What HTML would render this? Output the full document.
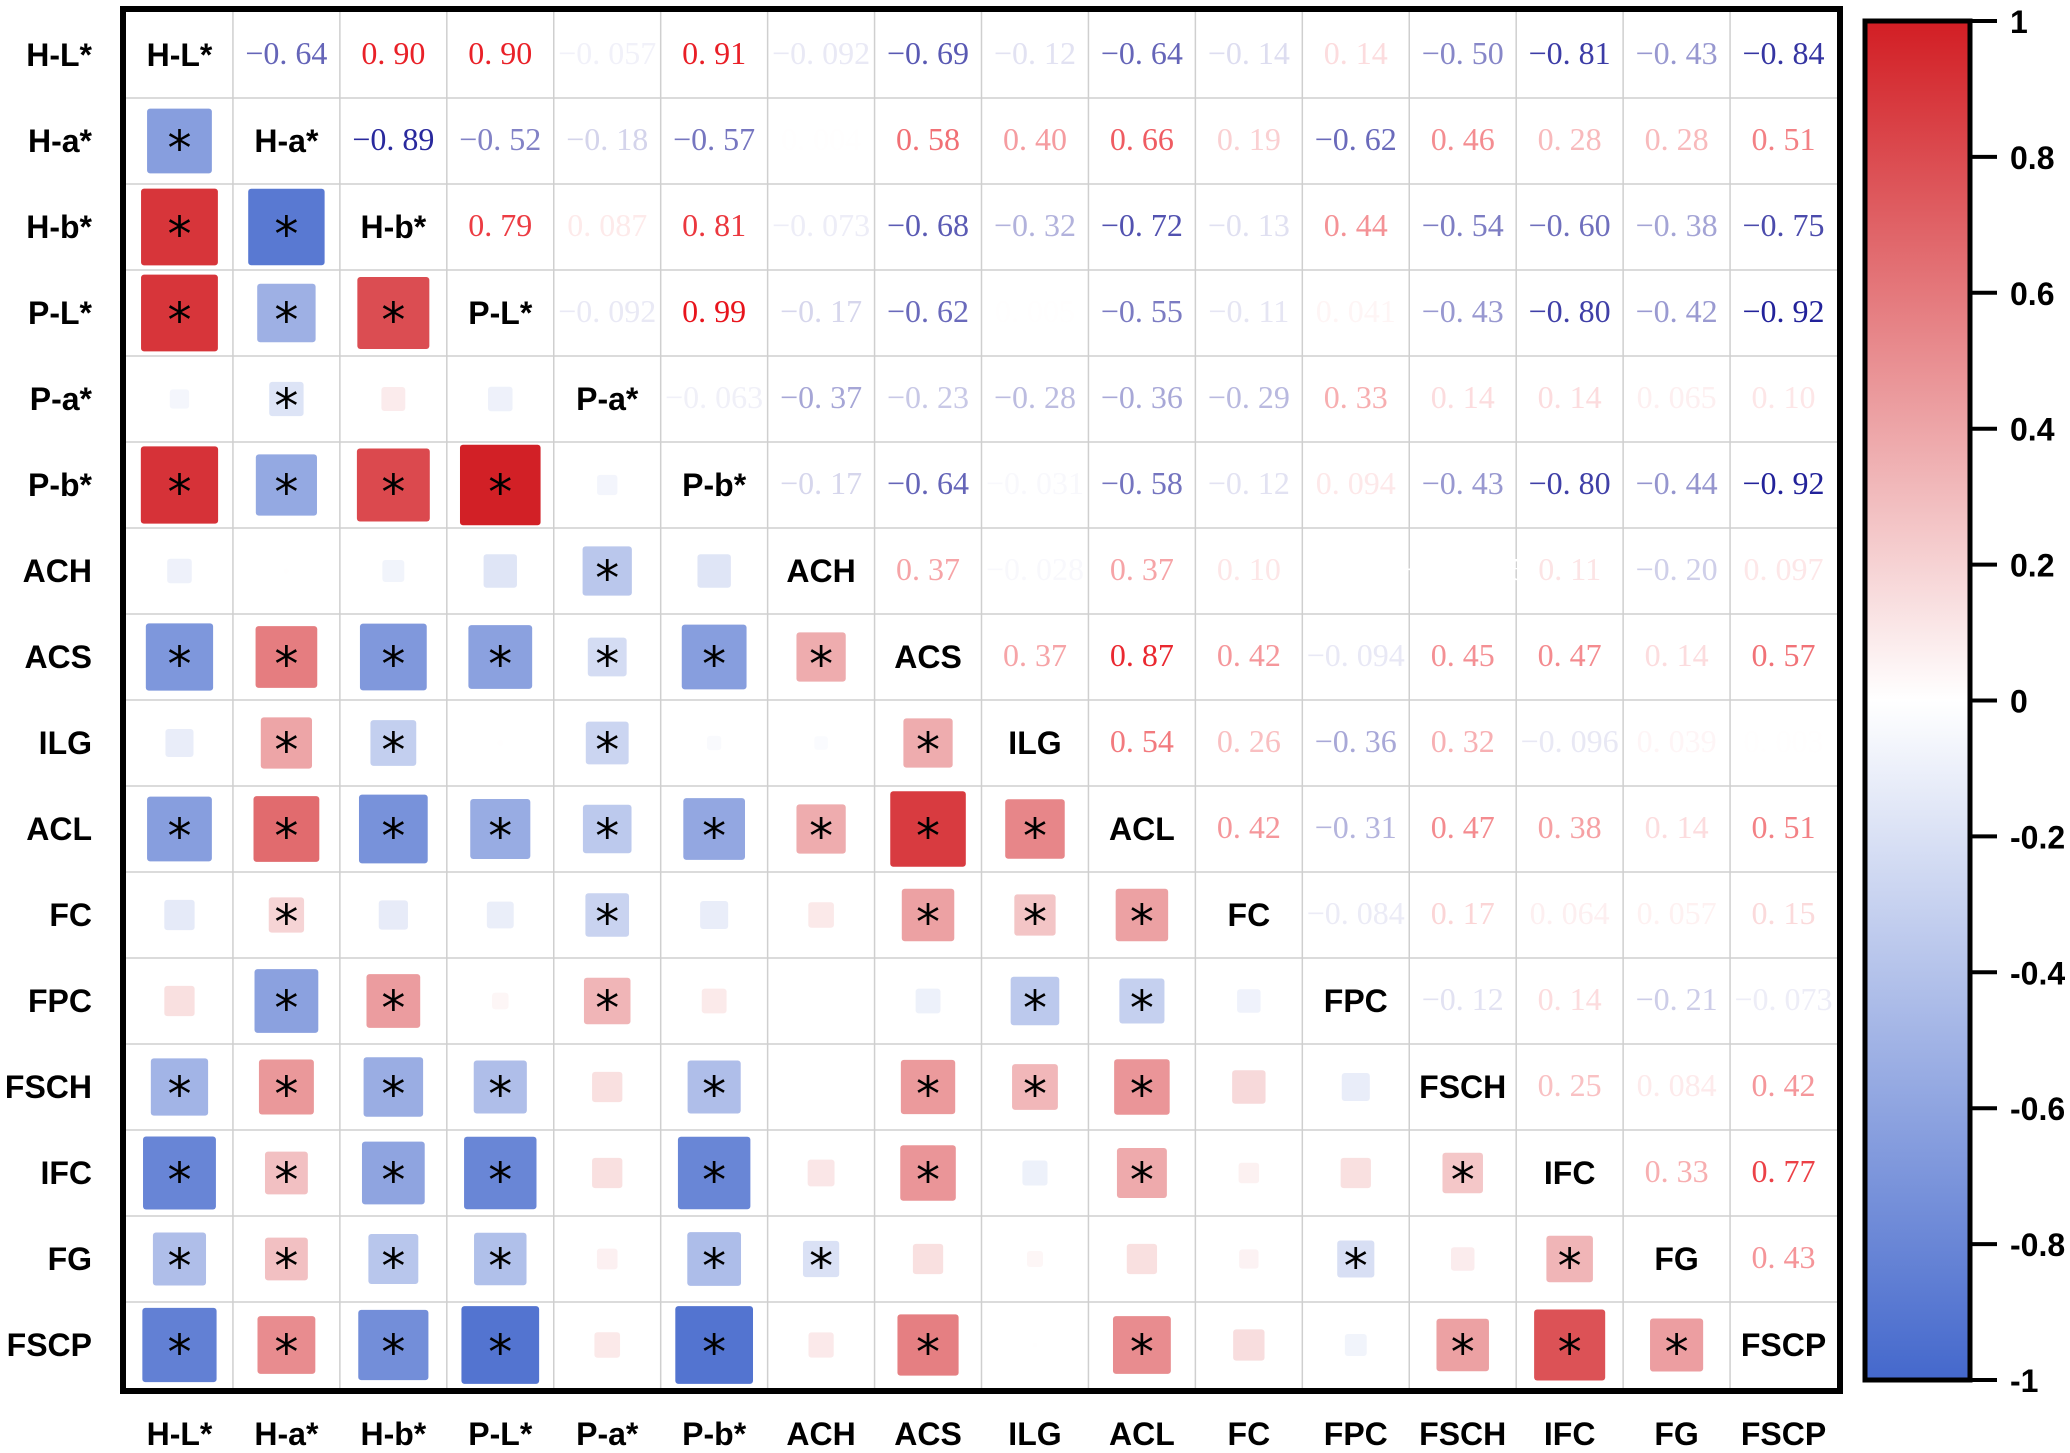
<!DOCTYPE html>
<html><head><meta charset="utf-8"><style>
html,body{margin:0;padding:0;background:#fff}
svg{display:block}
</style></head><body>
<svg id="chart" xmlns="http://www.w3.org/2000/svg" width="2070" height="1453" viewBox="0 0 2070 1453"></svg>
<script>
const labels = ["H-L*","H-a*","H-b*","P-L*","P-a*","P-b*","ACH","ACS","ILG","ACL","FC","FPC","FSCH","IFC","FG","FSCP"];
const upperRows = [
 [-0.64,0.90,0.90,-0.057,0.91,-0.092,-0.69,-0.12,-0.64,-0.14,0.14,-0.50,-0.81,-0.43,-0.84],
 [-0.89,-0.52,-0.18,-0.57,0.004,0.58,0.40,0.66,0.19,-0.62,0.46,0.28,0.28,0.51],
 [0.79,0.087,0.81,-0.073,-0.68,-0.32,-0.72,-0.13,0.44,-0.54,-0.60,-0.38,-0.75],
 [-0.092,0.99,-0.17,-0.62,0.005,-0.55,-0.11,0.041,-0.43,-0.80,-0.42,-0.92],
 [-0.063,-0.37,-0.23,-0.28,-0.36,-0.29,0.33,0.14,0.14,0.065,0.10],
 [-0.17,-0.64,-0.031,-0.58,-0.12,0.094,-0.43,-0.80,-0.44,-0.92],
 [0.37,-0.028,0.37,0.10,0.002,-0.00065,0.11,-0.20,0.097],
 [0.37,0.87,0.42,-0.094,0.45,0.47,0.14,0.57],
 [0.54,0.26,-0.36,0.32,-0.096,0.039,0.003],
 [0.42,-0.31,0.47,0.38,0.14,0.51],
 [-0.084,0.17,0.064,0.057,0.15],
 [-0.12,0.14,-0.21,-0.073],
 [0.25,0.084,0.42],
 [0.33,0.77],
 [0.43]
];
const sigRows = [
 [],
 [1],
 [1,1],
 [1,1,1],
 [0,1,0,0],
 [1,1,1,1,0],
 [0,0,0,0,1,0],
 [1,1,1,1,1,1,1],
 [0,1,1,0,1,0,0,1],
 [1,1,1,1,1,1,1,1,1],
 [0,1,0,0,1,0,0,1,1,1],
 [0,1,1,0,1,0,0,0,1,1,0],
 [1,1,1,1,0,1,0,1,1,1,0,0],
 [1,1,1,1,0,1,0,1,0,1,0,0,1],
 [1,1,1,1,0,1,1,0,0,0,0,1,0,1],
 [1,1,1,1,0,1,0,1,0,1,0,0,1,1,1]
];
const cbTicks = [1,0.8,0.6,0.4,0.2,0,-0.2,-0.4,-0.6,-0.8,-1];
const cbTickLabels = ["1","0.8","0.6","0.4","0.2","0","-0.2","-0.4","-0.6","-0.8","-1"];

const NS="http://www.w3.org/2000/svg";
const svg=document.getElementById('chart');
const X0=126,Y0=12,X1=1837,Y1=1388,N=labels.length;
const CW=(X1-X0)/N, CH=(Y1-Y0)/N;
const xc=j=>X0+CW*(j+0.5), yc=i=>Y0+CH*(i+0.5);
const CB={x0:1865,x1:1970,y0:21,y1:1380};
const cbY=v=>CB.y0+(1-v)/2*(CB.y1-CB.y0);
function mk(t,a,p){const e=document.createElementNS(NS,t);for(const k in a)e.setAttribute(k,a[k]);(p||svg).appendChild(e);return e;}
function mix(c,t){const w=[255,255,255];return 'rgb('+c.map((v,i)=>Math.round(w[i]+(v-w[i])*t)).join(',')+')';}
const fillCol=r=>r>=0?mix([210,30,36],Math.min(1,r)):mix([68,104,204],Math.min(1,-r));
const textCol=r=>r>=0?mix([232,20,28],Math.min(1,r*1.05)):mix([26,26,150],Math.min(1,-r*1.05));
function val(i,j){if(i===j)return 1;if(i<j)return upperRows[i][j-i-1];return upperRows[j][i-j-1];}
function fmt(v){let s=Math.abs(v)<0.01?(v<0?"-":"")+Math.abs(v).toFixed(Math.abs(v)<0.001?5:3):(Math.abs(v)<0.1?v.toFixed(3):v.toFixed(2));s=s.replace("-","\u2212");return s.replace(".",". ");}

const grid=mk('g',{});


for(let k=1;k<N;k++){
 mk('line',{x1:X0+CW*k,x2:X0+CW*k,y1:Y0,y2:Y1,stroke:'#cfcfcf','stroke-width':1.5},grid);
 mk('line',{x1:X0,x2:X1,y1:Y0+CH*k,y2:Y0+CH*k,stroke:'#cfcfcf','stroke-width':1.5},grid);
}
for(let i=0;i<N;i++)for(let j=0;j<N;j++){
 const r=val(i,j);
 if(i===j){
  const t=mk('text',{x:xc(j),y:yc(i)+11,'text-anchor':'middle','font-family':'Liberation Sans, sans-serif','font-weight':'bold','font-size':32,fill:'#000'});
  t.textContent=labels[i];
  
  
 } else if(i<j){
  const t=mk('text',{x:xc(j),y:yc(i)+9,'text-anchor':'middle','font-family':'Liberation Serif, serif','font-size':32,fill:textCol(r)});
  t.textContent=fmt(r);
  
  
 } else {
  const s=81*Math.sqrt(Math.abs(r));
  const rc=mk('rect',{x:xc(j)-s/2,y:yc(i)-s/2,width:s,height:s,rx:3,fill:fillCol(r)});
  
  
  if(sigRows[i][j]){
   const a=mk('text',{x:xc(j),y:yc(i)+24,'text-anchor':'middle','font-family':'DejaVu Sans, sans-serif','font-size':48,fill:'#000'});
   a.textContent='*';
   
   
  }
 }
}
const fr=mk('rect',{x:123,y:9,width:1717,height:1382,fill:'none',stroke:'#000','stroke-width':6});


for(let k=0;k<N;k++){
 const l=mk('text',{x:92,y:yc(k)+11,'text-anchor':'end','font-family':'Liberation Sans, sans-serif','font-weight':'bold','font-size':32,fill:'#000'});
 l.textContent=labels[k];
 
 
 const b=mk('text',{x:xc(k),y:1445,'text-anchor':'middle','font-family':'Liberation Sans, sans-serif','font-weight':'bold','font-size':32,fill:'#000'});
 b.textContent=labels[k];
 
 
}
const defs=mk('defs',{});
const lg=mk('linearGradient',{id:'cbg',x1:0,y1:0,x2:0,y2:1},defs);
mk('stop',{offset:'0',"stop-color":'rgb(210,30,36)'},lg);
mk('stop',{offset:'0.5',"stop-color":'#ffffff'},lg);
mk('stop',{offset:'1',"stop-color":'rgb(68,104,204)'},lg);
const cb=mk('rect',{x:CB.x0,y:CB.y0,width:CB.x1-CB.x0,height:CB.y1-CB.y0,fill:'url(#cbg)',stroke:'#000','stroke-width':5});


cbTicks.forEach((v,k)=>{
 const y=cbY(v);
 const tk=mk('line',{x1:CB.x1,x2:1997,y1:y,y2:y,stroke:'#000','stroke-width':4});
 
 
 const t=mk('text',{x:2010,y:y+12,'font-family':'Liberation Sans, sans-serif','font-weight':'bold','font-size':32,fill:'#000'});
 t.textContent=cbTickLabels[k];
 
 
});
</script>
</body></html>
